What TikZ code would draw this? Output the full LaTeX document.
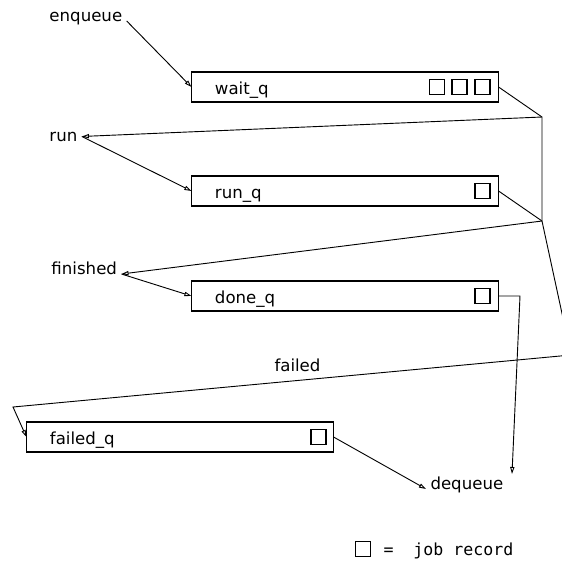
\documentclass[tikz,border=0pt]{standalone}
\usepackage{fontspec}
\setmainfont{DejaVu Sans}
\newfontfamily\keyfont{DejaVu Sans Mono}
\usetikzlibrary{arrows.meta}
\newcommand\qsize{\fontsize{11.8}{14}\selectfont}

\tikzset{
  queue/.style={draw, line width=0.75pt, rectangle, minimum height=0.75cm,
    text width=6.5cm, inner xsep=0.575cm, inner ysep=0pt, align=left,
    text height=10pt, text depth=0pt},
  job/.style={draw, line width=0.75pt, minimum size=0.375cm, inner sep=0pt},
  lbl/.style={inner sep=3pt},
  link/.style={line width=0.65pt},
  flow/.style={line width=0.65pt, -{Triangle[open,length=5pt,width=3pt]}},
}

\begin{document}
\begin{tikzpicture}[x=0.025cm, y=-0.025cm, font=\qsize]
    \useasboundingbox (0,0) rectangle (562,562);
    \clip (0,0) rectangle (562,562);

    % queues
    \node[queue] (waitq) at (345,87) {wait\_q};
    \node[queue] (runq) at (345,191) {run\_q};
    \node[queue] (doneq) at (345,296) {done\_q};
    \node[queue] (failq) at (180,437) {failed\_q};

    % job records
    \foreach \x [count=\i] in {437,459.5,482.5}
        \node[job] (wjob\i) at (\x,87) {};
    \node[job] (rjob) at (482.5,191) {};
    \node[job] (djob) at (482.5,296) {};
    \node[job] (fjob) at (318.5,437) {};

    % states
    \node[lbl, anchor=base west] (enq) at (45,21) {enqueue};
    \node[lbl, anchor=base west] (run) at (45,141) {run};
    \node[lbl, anchor=base west] (fin) at (47,274) {finished};
    \node[lbl, anchor=base west] (failtxt) at (270,371) {failed};
    \node[lbl, anchor=base west] (deq) at (426,489) {dequeue};

    \coordinate (j1) at (542,117);
    \coordinate (j2) at (542,221);
    \coordinate (jr) at (571,355);
    \coordinate (jf) at (13,407);
    \coordinate (jd) at (520,296);
    \coordinate (dqin) at (512,474);

    \draw[flow] (enq.base east) -- (waitq.west);
    \draw[link] (waitq.east) -- (j1) -- (j2);
    \draw[flow] (j1) -- (run.east);
    \draw[flow] (run.east) -- (runq.west);
    \draw[link] (runq.east) -- (j2);
    \draw[flow] (j2) -- (fin.base east);
    \draw[flow] (fin.base east) -- (doneq.west);
    \draw[flow] (j2) -- (jr) -- (jf) -- (failq.west);
    \draw[flow] (doneq.east) -- (jd) -- (dqin);
    \draw[flow] (failq.east) -- (deq.base west);

    % legend
    \node[job] (key) at (363,549) {};
    \node[lbl, anchor=base west, font={\fontsize{11.8}{14}\keyfont}] (keytxt) at (379,555) {=\ \ job record};
\end{tikzpicture}
\end{document}
